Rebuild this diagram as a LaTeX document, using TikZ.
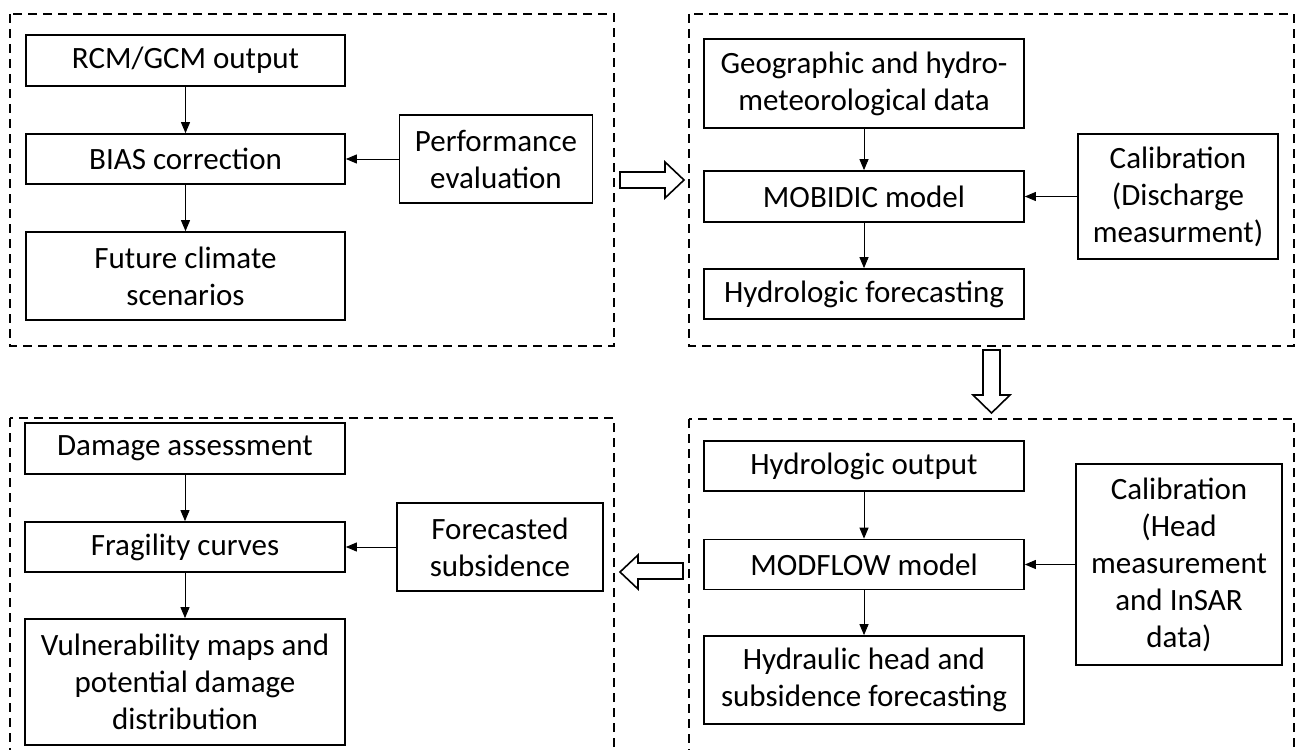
\documentclass[tikz,border=0pt]{standalone}
\usepackage{fontspec}
\setmainfont{Carlito}
\usetikzlibrary{arrows.meta}
\begin{document}
\begin{tikzpicture}[x=1pt,y=-1pt,
  box/.style={draw, line width=1.7pt, align=center, inner sep=0pt, font=\fontsize{31}{37}\selectfont},
  group/.style={draw, line width=2.5pt, dash pattern=on 9pt off 6pt},
  conn/.style={-{Triangle[length=11pt,width=9pt]}, line width=1pt},
  hollow/.style={draw, line width=1.6pt, fill=white, line join=miter}]
\useasboundingbox (0,0) rectangle (1300,749);
% group frames
\draw[group] (10,14) rectangle (614,346);
\draw[group] (689,14) rectangle (1294,346);
\draw[group] (10,418) rectangle (614,768);
\draw[group] (689,419) rectangle (1294,768);
% group 1
\node[box, minimum width=319pt, minimum height=51pt] (rcm) at (185.5,60.5) {RCM/GCM output};
\node[box, minimum width=319pt, minimum height=50pt] (bias) at (185.5,159) {BIAS correction};
\node[box, minimum width=319pt, minimum height=88pt] (fut) at (185.5,276) {Future climate\\scenarios};
\node[box, minimum width=193pt, minimum height=88pt] (perf) at (496,159) {Performance\\evaluation};
\draw[conn] (rcm) -- (bias);
\draw[conn] (bias) -- (fut);
\draw[conn] (perf) -- (bias);
% group 2
\node[box, minimum width=320pt, minimum height=89pt] (geo) at (864,83.5) {Geographic and hydro-\\meteorological data};
\node[box, minimum width=320pt, minimum height=51pt] (mob) at (864,196.5) {MOBIDIC model};
\node[box, minimum width=320pt, minimum height=50pt] (hfc) at (864,294) {Hydrologic forecasting};
\node[box, minimum width=200pt, minimum height=125pt] (cal1) at (1178,196.5) {Calibration\\(Discharge\\measurment)};
\draw[conn] (geo) -- (mob);
\draw[conn] (mob) -- (hfc);
\draw[conn] (cal1) -- (mob);
% group 4
\node[box, minimum width=320pt, minimum height=50pt] (hout) at (864,466) {Hydrologic output};
\node[box, minimum width=320pt, minimum height=50pt] (modf) at (864,564.5) {MODFLOW model};
\node[box, minimum width=320pt, minimum height=88pt] (hhead) at (864,680) {Hydraulic head and\\subsidence forecasting};
\node[box, minimum width=206pt, minimum height=201pt] (cal2) at (1179,564.5) {Calibration\\(Head\\measurement\\and InSAR\\data)};
\draw[conn] (hout) -- (modf);
\draw[conn] (modf) -- (hhead);
\draw[conn] (cal2) -- (modf);
% group 3
\node[box, minimum width=320pt, minimum height=51pt] (dam) at (185,448.5) {Damage assessment};
\node[box, minimum width=320pt, minimum height=50pt] (frag) at (185,547) {Fragility curves};
\node[box, minimum width=320pt, minimum height=126pt] (vul) at (185,682) {Vulnerability maps and\\potential damage\\distribution};
\node[box, minimum width=206pt, minimum height=88pt] (fsub) at (500,547) {Forecasted\\subsidence};
\draw[conn] (dam) -- (frag);
\draw[conn] (frag) -- (vul);
\draw[conn] (fsub) -- (frag);
% hollow block arrows between groups
\coordinate (a1) at (684,180);
\draw[hollow] (620,172) -- (665,172) -- (665,162) -- (a1) -- (665,198) -- (665,188) -- (620,188) -- cycle;
\coordinate (a2) at (991.5,413);
\draw[hollow] (983,350) -- (1000,350) -- (1000,395) -- (1010,395) -- (a2) -- (973,395) -- (983,395) -- cycle;
\coordinate (a3) at (620,572);
\draw[hollow] (683,563) -- (638,563) -- (638,555) -- (a3) -- (638,589) -- (638,579) -- (683,579) -- cycle;
\end{tikzpicture}
\end{document}
